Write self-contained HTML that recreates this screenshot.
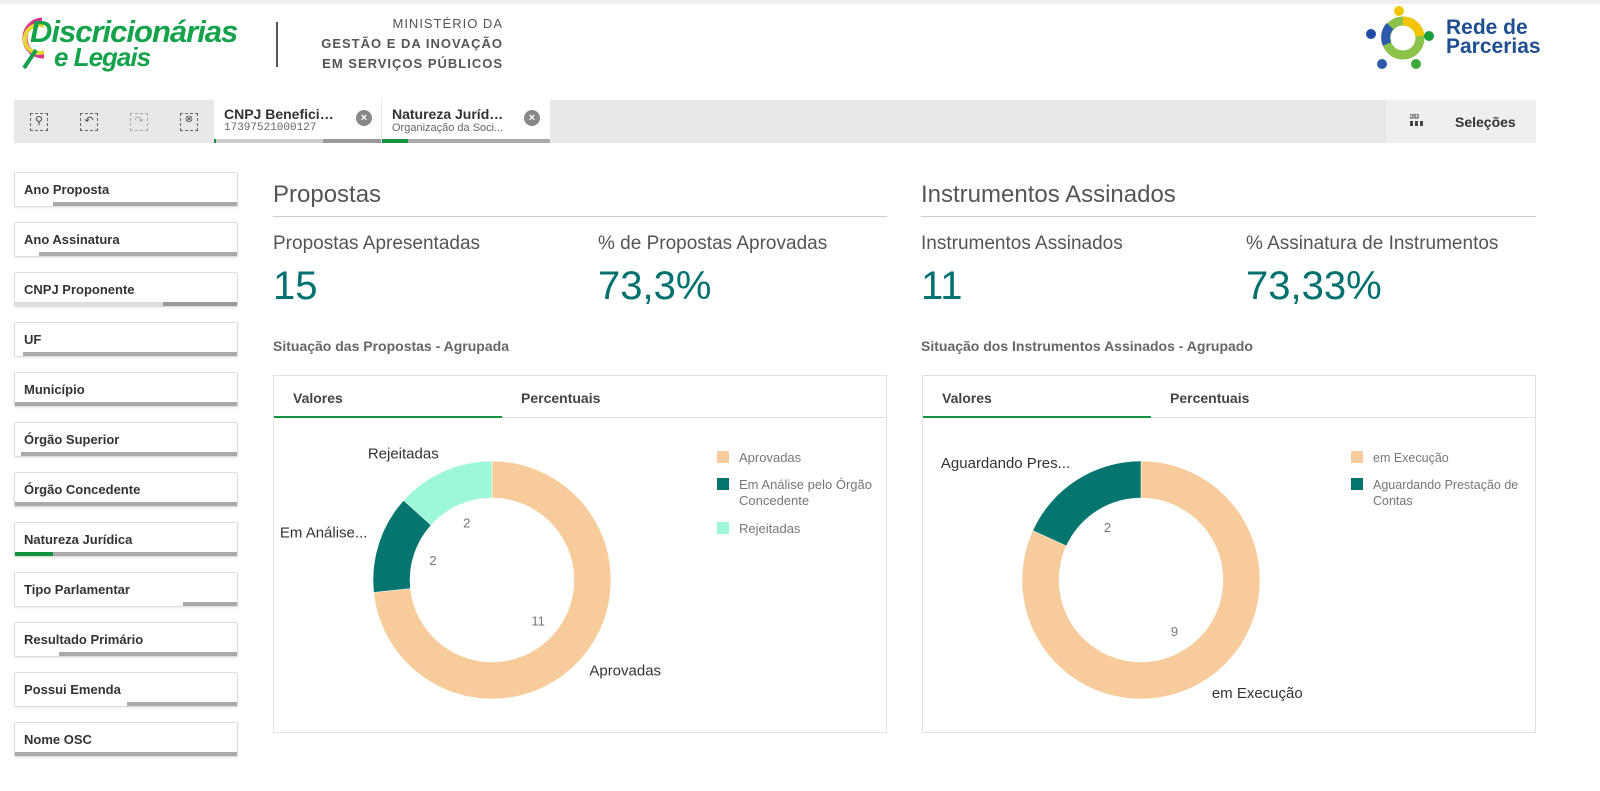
<!DOCTYPE html>
<html><head><meta charset="utf-8">
<style>
*{box-sizing:border-box;margin:0;padding:0}
body{width:1600px;height:791px;background:#fff;font-family:"Liberation Sans",sans-serif;position:relative;overflow:hidden;color:#404040}
.abs{position:absolute}
.filter{position:absolute;left:14px;width:224px;height:35px;border:1px solid #ddd;border-radius:2px;background:#fff;box-shadow:0 1px 2px rgba(0,0,0,.08)}
.filter span{position:absolute;left:9px;top:9px;font-size:13px;font-weight:bold;color:#333}
.filter .bar{position:absolute;left:0;right:0;bottom:0;height:4px;background:#aaa}
.filter .sel{position:absolute;left:0;bottom:0;height:4px;background:#fff}
.h2{font-size:24px;color:#555;}
.kl{font-size:19px;color:#555}
.kv{font-size:40px;color:#00716f}
.sub{font-size:14px;font-weight:bold;color:#666}
.box{position:absolute;border:1px solid #e0e0e0;background:#fff}
.tab{position:absolute;top:0;height:42px;font-size:14px;font-weight:bold;color:#444;padding:14px 0 0 19px}
</style></head><body>
<div class="abs" style="left:0;top:0;width:1600px;height:4px;background:#eee"></div>
<div class="abs" style="left:14px;top:12px;width:230px;height:60px">
  <svg width="40" height="60" class="abs" style="left:0;top:0"><path d="M28 8 A18 18 0 1 0 30 44" fill="none" stroke="#d6338a" stroke-width="5"/><path d="M30 14 A14 14 0 1 0 30 40" fill="none" stroke="#e6d636" stroke-width="4"/><path d="M10 56 L22 38" stroke="#13a04a" stroke-width="4"/></svg>
  <div class="abs" style="left:16px;top:2px;font-size:31px;font-weight:bold;font-style:italic;color:#14a24b;letter-spacing:-1px">Discricionárias</div>
  <div class="abs" style="left:40px;top:30px;font-size:26px;font-weight:bold;font-style:italic;color:#14a24b;letter-spacing:-1px">e Legais</div>
</div>
<div class="abs" style="left:276px;top:22px;width:2px;height:45px;background:#555"></div>
<div class="abs" style="left:300px;top:14px;width:203px;text-align:right;font-size:13px;line-height:20px;color:#555;letter-spacing:1px">MINISTÉRIO DA<br><b>GESTÃO E DA INOVAÇÃO</b><br><b>EM SERVIÇOS PÚBLICOS</b></div>
<div class="abs" style="left:1366px;top:6px;width:175px;height:64px">
  <svg width="74" height="64" class="abs" style="left:0;top:0"><circle cx="37" cy="32" r="17" fill="none" stroke="#8bc34a" stroke-width="9"/><path d="M37 15 A17 17 0 0 1 54 30" fill="none" stroke="#f2c500" stroke-width="9"/><path d="M21 38 A17 17 0 0 1 24 20" fill="none" stroke="#2d5aa8" stroke-width="9"/><circle cx="33" cy="5" r="5" fill="#f2c500"/><circle cx="5" cy="28" r="5" fill="#2149a8"/><circle cx="63" cy="30" r="5" fill="#1a9e3a"/><circle cx="16" cy="58" r="5" fill="#2d5aa8"/><circle cx="50" cy="58" r="5" fill="#3aaa3a"/></svg>
  <div class="abs" style="left:80px;top:12px;font-size:21px;font-weight:bold;line-height:19px;color:#1f4f8f">Rede de<br>Parcerias</div>
</div>
<div class="abs" style="left:14px;top:100px;width:1522px;height:43px;background:#e8e8e8">
  <div class="abs" style="left:16px;top:13px;width:18px;height:18px;border:1px dashed #666;font-size:11px;text-align:center;color:#444">⚲</div>
  <div class="abs" style="left:66px;top:13px;width:18px;height:18px;border:1px dashed #666;font-size:11px;text-align:center;color:#444">↶</div>
  <div class="abs" style="left:116px;top:13px;width:18px;height:18px;border:1px dashed #aaa;font-size:11px;text-align:center;color:#aaa">↷</div>
  <div class="abs" style="left:166px;top:13px;width:18px;height:18px;border:1px dashed #666;font-size:10px;text-align:center;color:#444">⊗</div>
  <div class="abs" style="left:200px;top:0;width:167px;height:43px;background:#fff">
    <div class="abs" style="left:10px;top:6px;font-size:14px;font-weight:bold;color:#333">CNPJ Benefici…</div>
    <div class="abs" style="left:10px;top:22px;font-size:11px;font-family:'Liberation Mono',monospace;color:#666">17397521000127</div>
    <div class="abs" style="left:142px;top:10px;width:16px;height:16px;border-radius:50%;background:#888;color:#fff;font-size:11px;text-align:center;line-height:16px;font-weight:bold">×</div>
    <div class="abs" style="left:0;bottom:0;width:167px;height:4px;background:#ccc"></div>
    <div class="abs" style="left:109px;bottom:0;width:58px;height:4px;background:#999"></div>
    <div class="abs" style="left:0;bottom:0;width:2px;height:4px;background:#16933f"></div>
  </div>
  <div class="abs" style="left:368px;top:0;width:168px;height:43px;background:#fff">
    <div class="abs" style="left:10px;top:6px;font-size:14px;font-weight:bold;color:#333">Natureza Juríd…</div>
    <div class="abs" style="left:10px;top:22px;font-size:11px;color:#666">Organização da Soci...</div>
    <div class="abs" style="left:142px;top:10px;width:16px;height:16px;border-radius:50%;background:#888;color:#fff;font-size:11px;text-align:center;line-height:16px;font-weight:bold">×</div>
    <div class="abs" style="left:0;bottom:0;width:168px;height:4px;background:#aaa"></div>
    <div class="abs" style="left:0;bottom:0;width:26px;height:4px;background:#16933f"></div>
  </div>
  <div class="abs" style="left:1372px;top:0;width:150px;height:43px;background:#efefef">
    <svg class="abs" style="left:24px;top:14px" width="14" height="14"><rect x="0" y="0" width="3" height="4" fill="none" stroke="#444"/><rect x="5" y="0" width="3" height="4" fill="none" stroke="#444"/><rect x="0" y="7" width="3" height="5" fill="#444"/><rect x="5" y="7" width="3" height="5" fill="#444"/><rect x="10" y="7" width="3" height="5" fill="#444"/></svg>
    <div class="abs" style="left:69px;top:14px;font-size:14px;font-weight:bold;color:#333">Seleções</div>
  </div>
</div>
<div id="filters"></div>

<div class="abs h2" style="left:273px;top:181px">Propostas</div>
<div class="abs" style="left:273px;top:216px;width:614px;height:1px;background:#ccc"></div>
<div class="abs kl" style="left:273px;top:233px">Propostas Apresentadas</div>
<div class="abs kv" style="left:273px;top:264px">15</div>
<div class="abs kl" style="left:598px;top:233px">% de Propostas Aprovadas</div>
<div class="abs kv" style="left:598px;top:264px">73,3%</div>
<div class="abs sub" style="left:273px;top:338px">Situação das Propostas - Agrupada</div>

<div class="abs h2" style="left:921px;top:181px">Instrumentos Assinados</div>
<div class="abs" style="left:921px;top:216px;width:615px;height:1px;background:#ccc"></div>
<div class="abs kl" style="left:921px;top:233px">Instrumentos Assinados</div>
<div class="abs kv" style="left:921px;top:264px">11</div>
<div class="abs kl" style="left:1246px;top:233px">% Assinatura de Instrumentos</div>
<div class="abs kv" style="left:1246px;top:264px">73,33%</div>
<div class="abs sub" style="left:921px;top:338px">Situação dos Instrumentos Assinados - Agrupado</div>

<div class="box" style="left:273px;top:375px;width:614px;height:358px">
  <div class="tab" style="left:0;width:228px;border-bottom:2px solid #16933f">Valores</div>
  <div class="tab" style="left:228px;width:385px;border-bottom:1px solid #e0e0e0">Percentuais</div>
  <svg id="c1" class="abs" style="left:0;top:0" width="614" height="358"></svg>
</div>
<div class="box" style="left:922px;top:375px;width:614px;height:358px">
  <div class="tab" style="left:0;width:228px;border-bottom:2px solid #16933f">Valores</div>
  <div class="tab" style="left:228px;width:385px;border-bottom:1px solid #e0e0e0">Percentuais</div>
  <svg id="c2" class="abs" style="left:0;top:0" width="614" height="358"></svg>
</div>

<script>
const filterNames=["Ano Proposta","Ano Assinatura","CNPJ Proponente","UF","Município","Órgão Superior","Órgão Concedente","Natureza Jurídica","Tipo Parlamentar","Resultado Primário","Possui Emenda","Nome OSC"];
const filterSel=[38,24,0,8,0,6,0,0,168,44,112,0];
const fc=document.getElementById('filters');
filterNames.forEach((n,i)=>{
  const d=document.createElement('div');
  d.className='filter';
  d.style.top=(172+i*50)+'px';
  
  
  let bar='<div class="bar"></div>';
  if(i==2) bar='<div class="bar" style="background:#999"></div><div class="sel" style="width:148px;background:#ddd"></div>';
  else if(i==7) bar='<div class="bar"></div><div class="sel" style="width:38px;background:#16933f"></div>';
  else if(filterSel[i]) bar+='<div class="sel" style="width:'+filterSel[i]+'px"></div>';
  d.innerHTML='<span>'+n+'</span>'+bar;
  fc.appendChild(d);
});

const cats1=["Aprovadas","Em Análise pelo Órgão Concedente","Rejeitadas"];
const short1=["Aprovadas","Em Análise...","Rejeitadas"];
const vals1=[11,2,2];
const cols1=["#f8cb9c","#05766f","#9ef8d7"];
const cats2=["em Execução","Aguardando Prestação de Contas"];
const short2=["em Execução","Aguardando Pres..."];
const vals2=[9,2];
const cols2=["#f8cb9c","#05766f"];

const NS='http://www.w3.org/2000/svg';
function el(svg,tag,attrs,text){const e=document.createElementNS(NS,tag);for(const k in attrs)e.setAttribute(k,attrs[k]);if(text!==undefined)e.textContent=text;svg.appendChild(e);return e;}
function donut(id,cats,shorts,vals,cols,legendWrap,legX,lfs){
  const svg=document.getElementById(id);
  const cx=218,cy=204,R=119,r=82;
  const total=vals.reduce((a,b)=>a+b,0);
  let a0=0;
  vals.forEach((v,i)=>{
    const a1=a0+v/total*2*Math.PI;
    const p=(a,rad)=>[cx+rad*Math.sin(a),cy-rad*Math.cos(a)];
    const large=(a1-a0)>Math.PI?1:0;
    const [x0,y0]=p(a0,R),[x1,y1]=p(a1,R),[x2,y2]=p(a1,r),[x3,y3]=p(a0,r);
    const s=el(svg,'path',{d:`M${x0} ${y0}A${R} ${R} 0 ${large} 1 ${x1} ${y1}L${x2} ${y2}A${r} ${r} 0 ${large} 0 ${x3} ${y3}Z`,fill:cols[i],stroke:'#fff','stroke-width':0.5});
    
    
    const am=(a0+a1)/2;
    const [vx,vy]=p(am,r-20);
    const t=el(svg,'text',{x:vx,y:vy+4,'text-anchor':'middle','font-size':13,fill:'#777'},String(v));
    
    
    const [lx,ly]=p(am,R+12);
    const anchor=Math.sin(am)>0.1?'start':(Math.sin(am)<-0.1?'end':'middle');
    let oy=5;
    if(Math.cos(am)>0.3)oy=-2;
    if(Math.cos(am)<-0.5)oy=8;
    const lab=el(svg,'text',{x:lx,y:ly+oy,'text-anchor':anchor,'font-size':15,fill:'#333'},shorts[i]);
    
    
    a0=a1;
  });
  let ly=76;
  cats.forEach((c,i)=>{
    const g=el(svg,'g',{});
    
    
    el(g,'rect',{x:legX,y:ly-1,width:12,height:12,fill:cols[i]});
    const lines=legendWrap[i];
    lines.forEach((ln,j)=>el(g,'text',{x:legX+22,y:ly+10+j*16,'font-size':lfs,fill:'#777'},ln));
    ly+=lines.length>1?44:27;
  });
}
donut('c1',cats1,short1,vals1,cols1,[["Aprovadas"],["Em Análise pelo Órgão","Concedente"],["Rejeitadas"]],443,13);
donut('c2',cats2,short2,vals2,cols2,[["em Execução"],["Aguardando Prestação de","Contas"]],428,12.5);
</script>
</body></html>
